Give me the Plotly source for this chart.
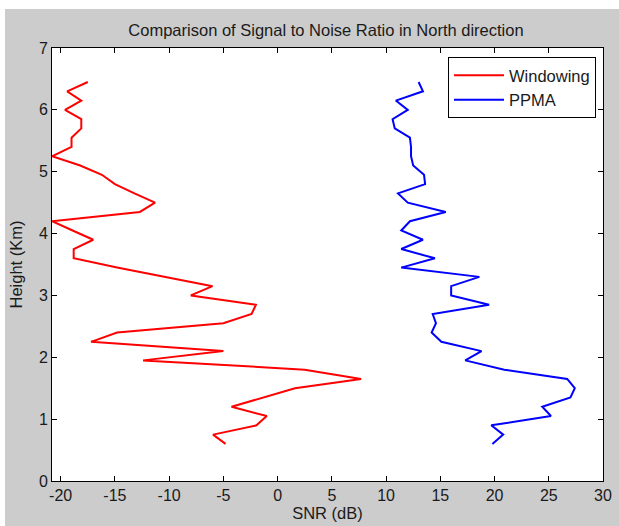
import plotly.graph_objects as go

height_km = [6.45, 6.30, 6.15, 6.00, 5.85, 5.70, 5.55, 5.40, 5.25, 5.10,
             4.95, 4.80, 4.65, 4.50, 4.35, 4.20, 4.05, 3.90, 3.75, 3.60,
             3.45, 3.30, 3.15, 3.00, 2.85, 2.70, 2.55, 2.40, 2.25, 2.10,
             1.95, 1.80, 1.65, 1.50, 1.35, 1.20, 1.05, 0.90, 0.75, 0.60]

snr_windowing = [-17.5, -19.4, -18.1, -19.6, -18.1, -18.1, -19.0, -19.0, -20.8, -18.2,
                 -16.2, -15.0, -13.2, -11.3, -12.7, -20.8, -18.9, -17.0, -18.8, -18.8,
                 -14.8, -10.5, -6.0, -8.0, -2.0, -2.4, -5.0, -14.8, -17.2, -5.0,
                 -12.4, 2.5, 7.7, 1.6, -1.3, -4.25, -1.0, -1.95, -5.95, -4.8]

snr_ppma = [13.0, 13.4, 10.9, 12.0, 10.6, 10.8, 12.2, 12.3, 12.3, 12.5,
            13.5, 13.6, 11.1, 12.0, 15.5, 12.2, 11.4, 13.4, 11.4, 14.5,
            11.4, 18.6, 16.0, 16.0, 19.5, 14.3, 14.6, 14.2, 15.1, 18.8,
            17.3, 20.9, 26.7, 27.4, 27.0, 24.4, 25.2, 19.7, 20.8, 19.8]

x_ticks = [-20, -15, -10, -5, 0, 5, 10, 15, 20, 25, 30]
y_ticks = [0, 1, 2, 3, 4, 5, 6, 7]

FONT = "Liberation Sans, Arial, sans-serif"
TXT = "#1a1a1a"

fig = go.Figure()
fig.add_trace(go.Scatter(x=snr_windowing, y=height_km, mode="lines", name="Windowing",
                         line=dict(color="#ff0000", width=2)))
fig.add_trace(go.Scatter(x=snr_ppma, y=height_km, mode="lines", name="PPMA",
                         line=dict(color="#0000ff", width=2)))

W, H = 619, 526
ml, mr, mt, mb = 52, 16, 48, 45
pw, ph = W - ml - mr, H - mt - mb

def px2paper_x(px):
    return (px - ml) / pw

def py2paper_y(py):
    return (H - mb - py) / ph

fig.update_layout(
    width=W, height=H,
    autosize=False,
    margin=dict(l=ml, r=mr, t=mt, b=mb, pad=0, autoexpand=False),
    paper_bgcolor="#cccccc",
    plot_bgcolor="#ffffff",
    font=dict(family=FONT, size=15, color=TXT),
    title=dict(text="Comparison of Signal to Noise Ratio in North direction",
               x=px2paper_x(326), xref="paper", xanchor="center",
               y=1 - 30 / H, yanchor="middle",
               font=dict(family=FONT, size=16.5, color=TXT)),
    showlegend=True,
    legend=dict(x=px2paper_x(596), y=py2paper_y(57), xanchor="right", yanchor="top",
                bgcolor="#ffffff", bordercolor="#000000", borderwidth=1,
                font=dict(family=FONT, size=16.5, color=TXT),
                itemwidth=50, tracegroupgap=0),
    xaxis=dict(range=[-20.8, 30], tickvals=x_ticks, ticktext=[str(v) for v in x_ticks],
               ticks="inside", ticklen=5, tickcolor="#000000", showline=True,
               linecolor="#000000", linewidth=1, mirror="ticks", showgrid=False,
               zeroline=False, automargin=False,
               title=dict(text="SNR (dB)", standoff=4,
                          font=dict(family=FONT, size=16.5, color=TXT)),
               tickfont=dict(family=FONT, size=16, color=TXT)),
    yaxis=dict(range=[0, 7], tickvals=y_ticks, ticktext=[str(v) for v in y_ticks],
               ticks="inside", ticklen=5, tickcolor="#000000", showline=True,
               linecolor="#000000", linewidth=1, mirror="ticks", showgrid=False,
               zeroline=False, automargin=False,
               title=dict(text="Height (Km)", standoff=12,
                          font=dict(family=FONT, size=16.5, color=TXT)),
               tickfont=dict(family=FONT, size=16, color=TXT)),
    shapes=[
        dict(type="rect", xref="paper", yref="paper", layer="below",
             x0=px2paper_x(0), x1=px2paper_x(W), y0=py2paper_y(9), y1=py2paper_y(0),
             fillcolor="#ffffff", line=dict(width=0)),
        dict(type="rect", xref="paper", yref="paper", layer="below",
             x0=px2paper_x(0), x1=px2paper_x(5), y0=py2paper_y(H), y1=py2paper_y(0),
             fillcolor="#ffffff", line=dict(width=0)),
    ],
)

fig.write_html("out.html")
